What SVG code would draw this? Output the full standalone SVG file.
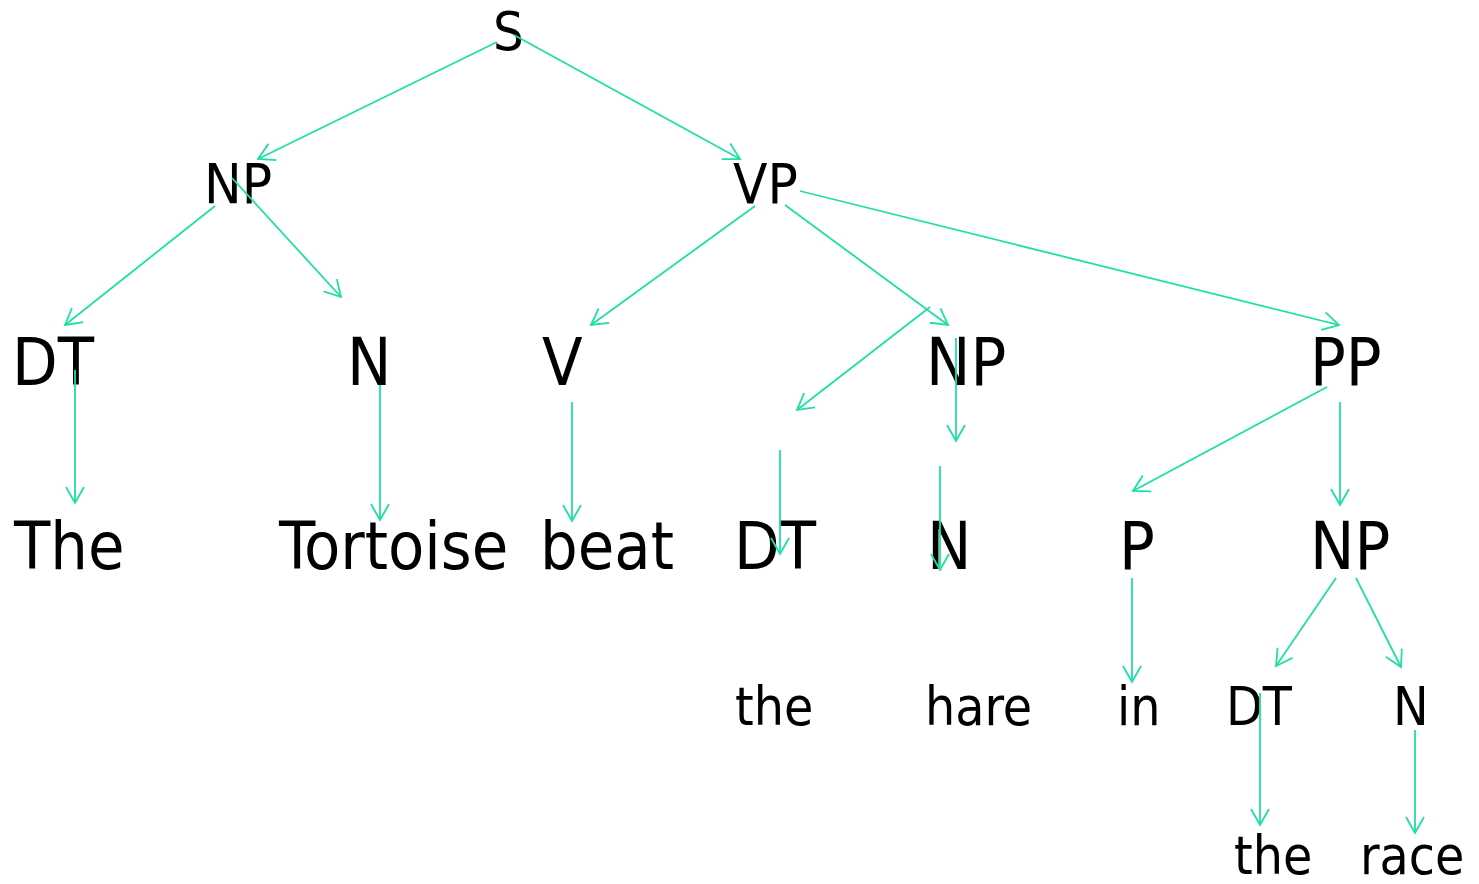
<svg xmlns="http://www.w3.org/2000/svg" width="1479" height="884" viewBox="0 0 1479 884">
<defs>
<style>
text{font-family:"DejaVu Sans Condensed","DejaVu Sans",sans-serif;font-stretch:condensed;fill:#000}
.l0{font-size:54px}.l1{font-size:56px}.l2{font-size:66px}.l4{font-size:53px}
.e line{stroke:#1fdfa6;stroke-width:1.8;fill:none;marker-end:url(#ah)}
</style>
<marker id="ah" markerUnits="userSpaceOnUse" markerWidth="30" markerHeight="30" refX="0" refY="0" viewBox="-20 -15 30 30" orient="auto" overflow="visible">
<path d="M-16,-9 L0,0 L-16,9" fill="none" stroke="#1fdfa6" stroke-width="1.8"/>
</marker>
</defs>
<rect width="1479" height="884" fill="#fff"/>
<g id="n_S"><text class="l0" x="493" y="50">S</text></g>
<g id="n_NP1"><text class="l1" x="204" y="203">NP</text></g>
<g id="n_VP"><text class="l1" x="733" y="203">VP</text></g>
<g id="n_DT1"><text class="l2" x="12" y="385">DT</text></g>
<g id="n_N1"><text class="l2" x="347" y="385">N</text></g>
<g id="n_V"><text class="l2" x="542" y="385">V</text></g>
<g id="n_NP2"><text class="l2" x="926" y="385">NP</text></g>
<g id="n_PP"><text class="l2" x="1310" y="385">PP</text></g>
<g id="n_The"><text class="l2" x="14" y="569">The</text></g>
<g id="n_Tortoise"><text class="l2" x="279" y="569">Tortoise</text></g>
<g id="n_beat"><text class="l2" x="540" y="569">beat</text></g>
<g id="n_DT2"><text class="l2" x="734" y="569">DT</text></g>
<g id="n_N2"><text class="l2" x="927" y="569">N</text></g>
<g id="n_P"><text class="l2" x="1119" y="569">P</text></g>
<g id="n_NP3"><text class="l2" x="1310" y="569">NP</text></g>
<g id="n_the1"><text class="l4" x="735" y="725">the</text></g>
<g id="n_hare"><text class="l4" x="925" y="725">hare</text></g>
<g id="n_in"><text class="l4" x="1117" y="725">in</text></g>
<g id="n_DT3"><text class="l4" x="1226" y="725">DT</text></g>
<g id="n_N3"><text class="l4" x="1393" y="725">N</text></g>
<g id="n_the2"><text class="l4" x="1234" y="874">the</text></g>
<g id="n_race"><text class="l4" x="1360" y="874">race</text></g>
<g id="connectors" class="e">
<line x1="497" y1="42" x2="258" y2="159"/>
<line x1="514" y1="35" x2="740" y2="159"/>
<line x1="215" y1="206" x2="65" y2="325"/>
<line x1="232" y1="178" x2="341" y2="297"/>
<line x1="755" y1="206" x2="591" y2="325"/>
<line x1="785" y1="205" x2="948" y2="325"/>
<line x1="800" y1="191" x2="1339" y2="325"/>
<line x1="930" y1="307" x2="797" y2="410"/>
<line x1="956" y1="338" x2="956" y2="441"/>
<line x1="75" y1="370" x2="75" y2="503"/>
<line x1="380" y1="385" x2="380" y2="520"/>
<line x1="572" y1="402" x2="572" y2="521"/>
<line x1="780" y1="450" x2="780" y2="554"/>
<line x1="940" y1="466" x2="940" y2="570"/>
<line x1="1327" y1="387" x2="1133" y2="491"/>
<line x1="1340" y1="402" x2="1340" y2="505"/>
<line x1="1132" y1="578" x2="1132" y2="682"/>
<line x1="1336" y1="578" x2="1276" y2="666"/>
<line x1="1356" y1="578" x2="1401" y2="667"/>
<line x1="1260" y1="693" x2="1260" y2="825"/>
<line x1="1415" y1="730" x2="1415" y2="833"/>
</g>
</svg>
